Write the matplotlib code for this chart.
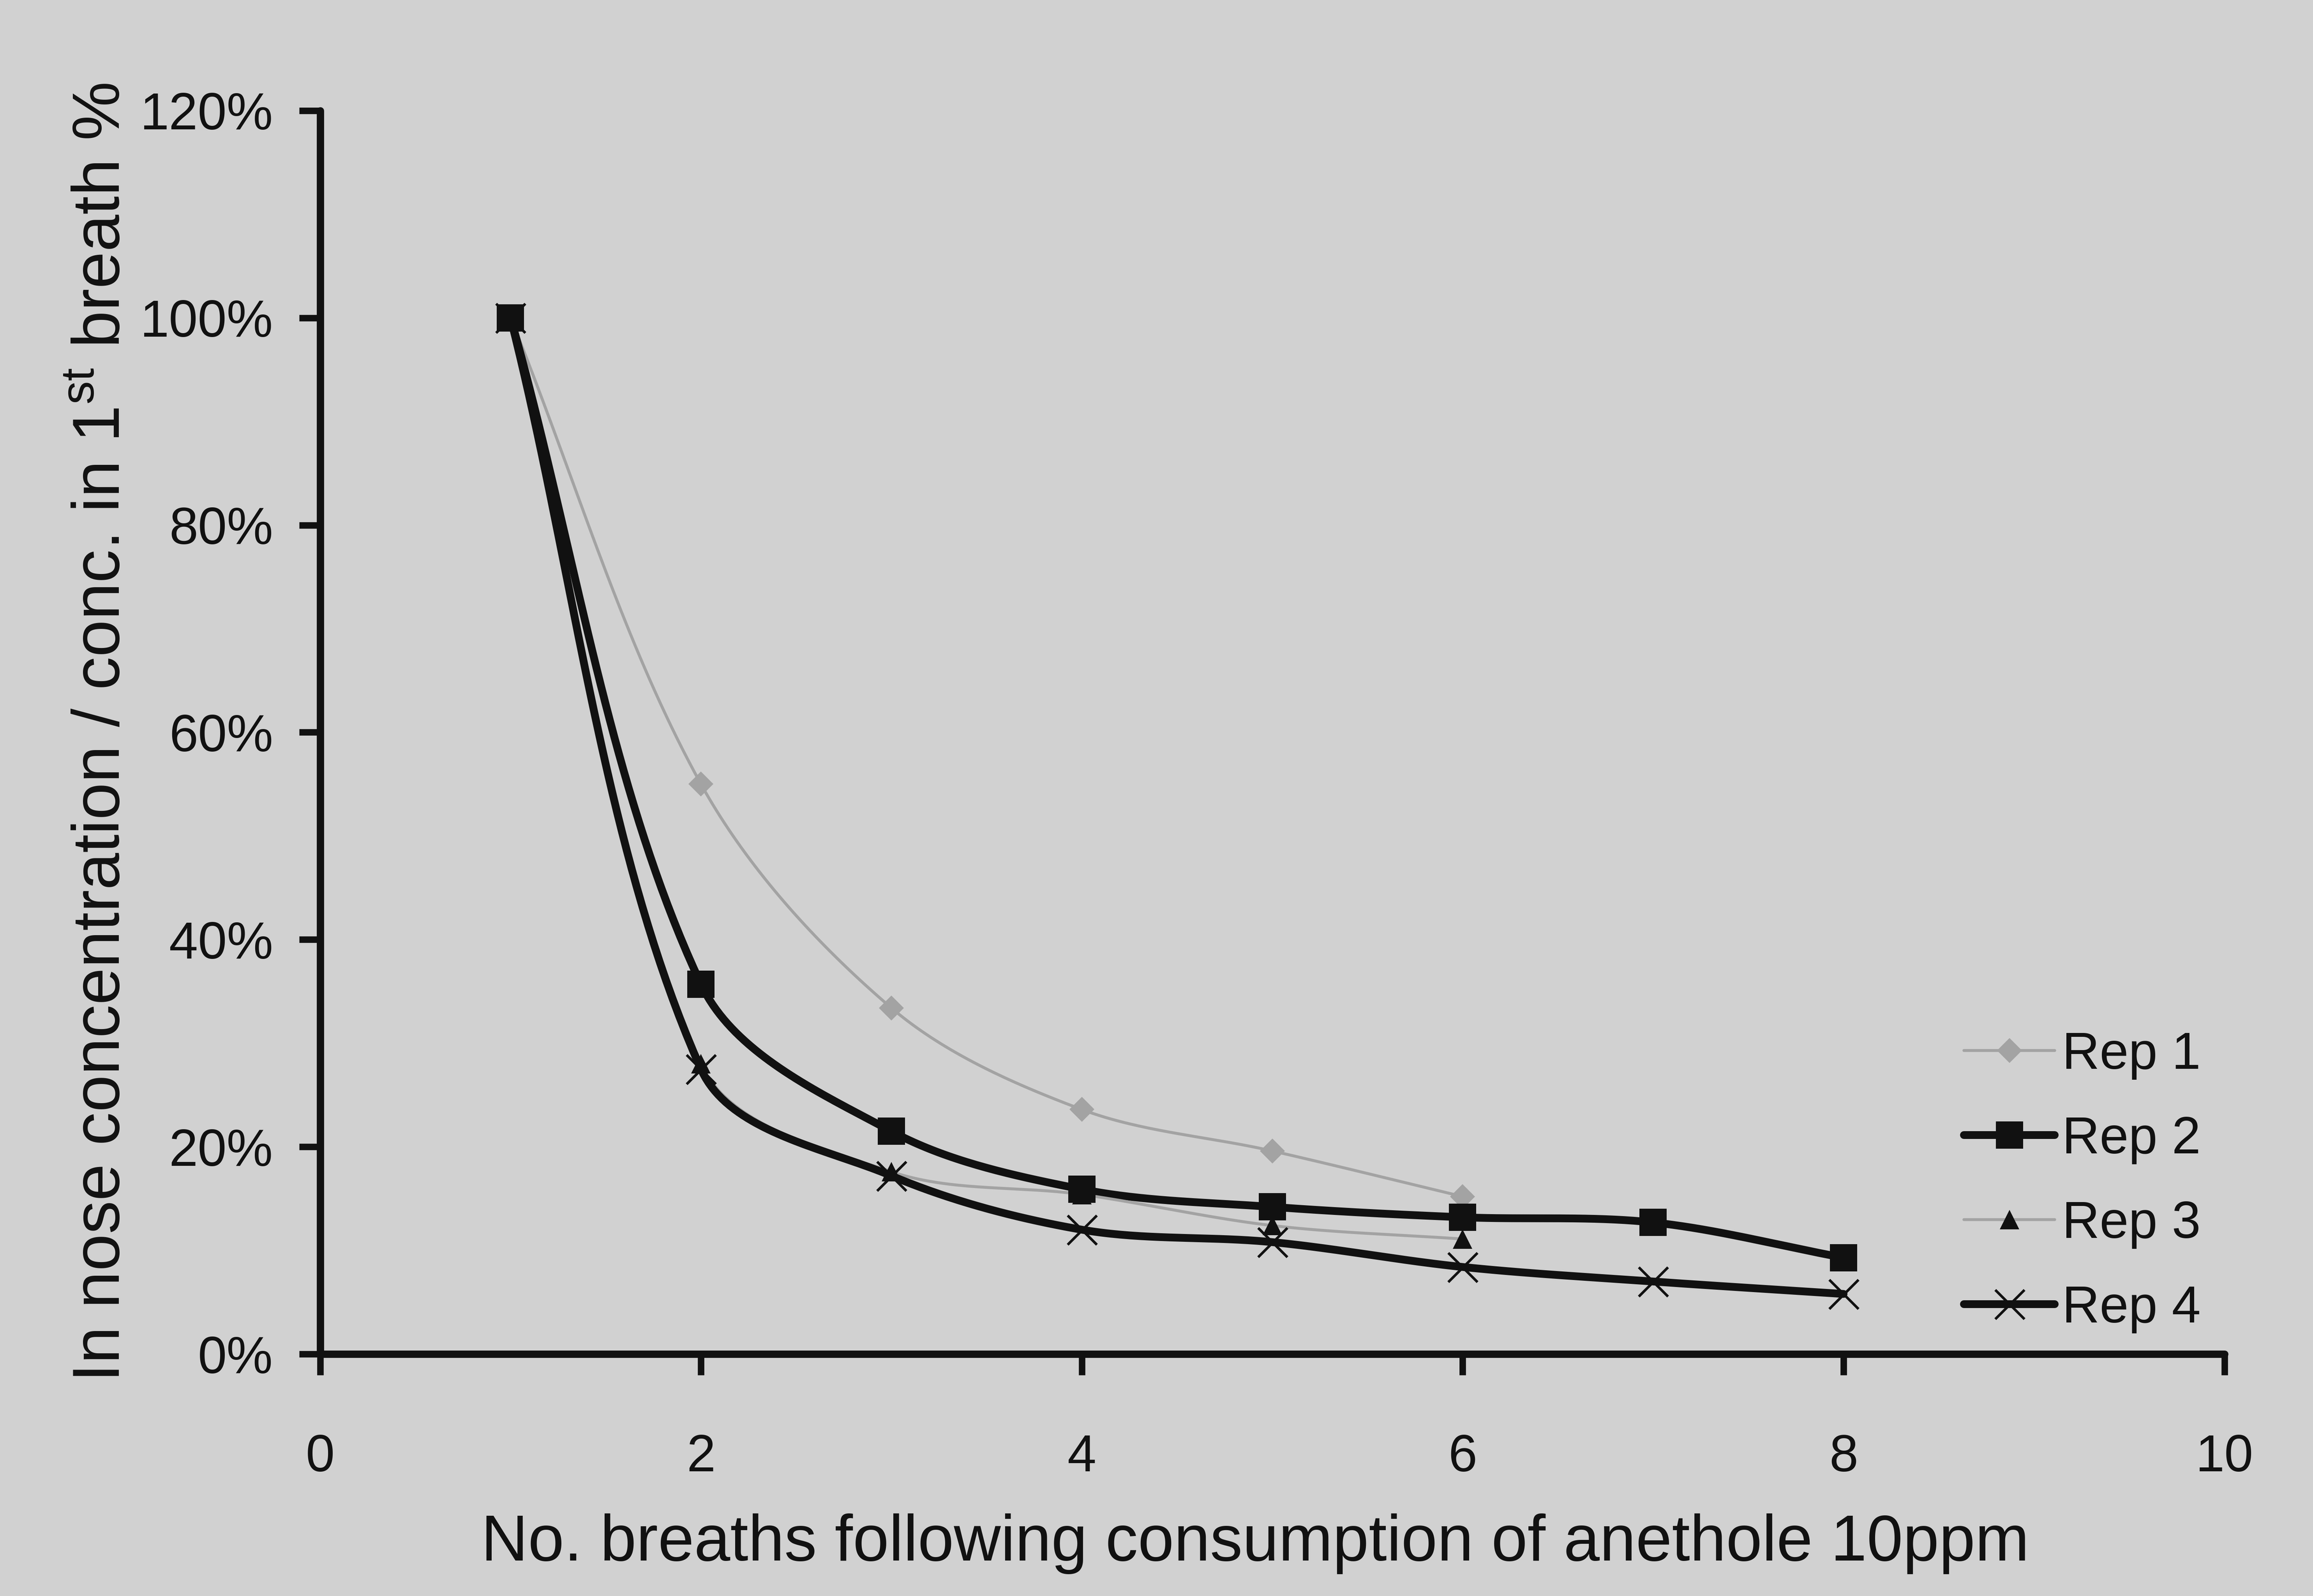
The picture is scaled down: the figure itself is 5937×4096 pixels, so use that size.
import numpy as np
import matplotlib
matplotlib.use("Agg")
import matplotlib.pyplot as plt
from matplotlib.ticker import FuncFormatter, MultipleLocator

plt.rcParams["font.family"] = ["Liberation Sans", "DejaVu Sans"]
plt.rcParams["mathtext.fontset"] = "custom"
plt.rcParams["mathtext.rm"] = "Liberation Sans"

# ---------- data (% of 1st breath) ----------
breaths = [1, 2, 3, 4, 5, 6, 7, 8]
rep1 = [100, 55.0, 33.4, 23.6, 19.6, 15.2]
rep2 = [100, 35.7, 21.5, 15.9, 14.2, 13.2, 12.7, 9.3]
rep3 = [100, 28.0, 17.6, 15.4, 12.4, 11.1]
rep4 = [100, 27.5, 17.2, 12.0, 10.8, 8.4, 7.0, 5.8]
labels = ["Rep 1", "Rep 2", "Rep 3", "Rep 4"]

BG = "#d1d1d1"
GREY = "#a3a3a3"
INK = "#111111"


def smooth(ax, xs, ys, n=40):
    """Excel-like smoothed line, built in screen space: Bezier segments whose
    handles follow the neighbour chord and scale with the segment lengths."""
    p = ax.transData.transform(np.column_stack([xs, ys]).astype(float))
    p = np.vstack([p[0], p, p[-1]])
    t = np.linspace(0, 1, n)[:, None]
    out = []
    for i in range(1, len(p) - 2):
        p0, p1, p2, p3 = p[i - 1], p[i], p[i + 1], p[i + 2]
        d01 = np.hypot(*(p1 - p0))
        d12 = np.hypot(*(p2 - p1))
        d23 = np.hypot(*(p3 - p2))
        c1 = p1 + (p2 - p0) * d12 / (d01 + d12) / 3.0
        c2 = p2 - (p3 - p1) * d12 / (d12 + d23) / 3.0
        seg = ((1 - t) ** 3) * p1 + 3 * ((1 - t) ** 2) * t * c1 + 3 * (1 - t) * t ** 2 * c2 + t ** 3 * p2
        out.append(seg if i == 1 else seg[1:])
    out = ax.transData.inverted().transform(np.vstack(out))
    return out[:, 0], out[:, 1]


fig = plt.figure(figsize=(5937 / 300, 4096 / 300), dpi=300, facecolor=BG)
ax = fig.add_axes([0.1384, 0.1516, 0.8233, 0.7791])
ax.set_facecolor(BG)
ax.set_xlim(0, 10)
ax.set_ylim(0, 120)

series = [
    (rep1, dict(color=GREY, lw=1.8), dict(marker="D", ms=11, mfc=GREY, mec=GREY, mew=0)),
    (rep2, dict(color=INK, lw=4.8), dict(marker="s", ms=17, mfc=INK, mec=INK, mew=0)),
    (rep3, dict(color=GREY, lw=1.8), dict(marker="^", ms=12, mfc=INK, mec=INK, mew=0)),
    (rep4, dict(color=INK, lw=4.8), dict(marker="x", ms=18, mec=INK, mew=1.6)),
]

handles = []
for (vals, lstyle, mstyle), lab in zip(series, labels):
    xs = breaths[:len(vals)]
    sx, sy = smooth(ax, xs, vals)
    ax.plot(sx, sy, solid_capstyle="round", zorder=2, **lstyle)
    ax.plot(xs, vals, ls="none", zorder=3, **mstyle)
    h, = ax.plot([], [], solid_capstyle="round", **lstyle, **mstyle)
    handles.append(h)

ax.xaxis.set_major_locator(MultipleLocator(2))
ax.yaxis.set_major_locator(MultipleLocator(20))
ax.yaxis.set_major_formatter(FuncFormatter(lambda v, _: f"{v:.0f}%"))

for side in ("top", "right"):
    ax.spines[side].set_visible(False)
for side in ("left", "bottom"):
    ax.spines[side].set_linewidth(4.5)
    ax.spines[side].set_color(INK)
    ax.spines[side].set_capstyle("round")

ax.tick_params(axis="both", direction="out", length=13, width=4, color=INK,
               labelsize=32, labelcolor=INK)
ax.tick_params(axis="x", pad=36)
ax.tick_params(axis="y", pad=16)

ax.set_xlabel("No. breaths following consumption of anethole 10ppm", fontsize=40,
              color=INK, labelpad=16)
ax.xaxis.set_label_coords(0.491, -0.128)
ax.set_ylabel(r"In nose concentration / conc. in 1$^{\mathrm{st}}$ breath %", fontsize=41,
              color=INK, labelpad=4)

leg = ax.legend(handles, labels, loc="lower right", bbox_to_anchor=(0.9876, 0.0166),
                frameon=False, fontsize=32, handlelength=1.75, handletextpad=0.14,
                labelspacing=0.69, borderpad=0, borderaxespad=0)
for t in leg.get_texts():
    t.set_color(INK)

fig.savefig("out.png", dpi=300, facecolor=BG)
